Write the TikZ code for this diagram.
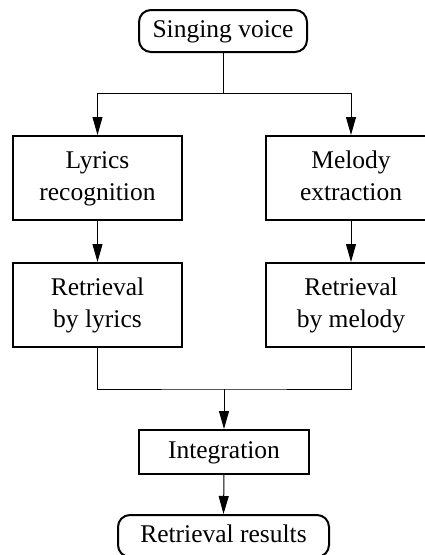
\documentclass[tikz,border=0pt]{standalone}
\usepackage{fontspec}
\setmainfont{Liberation Serif}
\usetikzlibrary{arrows.meta}
\begin{document}
\begin{tikzpicture}[x=1pt,y=-1pt,
  box/.style={draw,line width=2pt,minimum width=169pt,minimum height=84pt,align=center,inner sep=0pt,
    font=\fontsize{25.5}{32}\selectfont},
  term/.style={draw,line width=2pt,rounded corners=12pt,minimum height=42pt,inner sep=0pt,
    font=\fontsize{25.5}{32}\selectfont},
  conn/.style={line width=1pt},
  arr/.style={conn,-{Triangle[length=18pt,width=10pt]}}]
\useasboundingbox (0,0) rectangle (425,555);
\node[term,minimum width=168pt] (sing) at (223,31) {\strut Singing voice};
\node[box] (lyr) at (97.5,178) {\strut Lyrics\\\strut recognition};
\node[box,minimum width=170pt] (mel) at (351,178) {\strut Melody\\\strut extraction};
\node[box] (rl) at (97.5,305) {\strut Retrieval\\\strut by lyrics};
\node[box,minimum width=170pt] (rm) at (351,305) {\strut Retrieval\\\strut by melody};
\node[box,minimum width=170pt,minimum height=44pt] (integ) at (224,452) {\strut Integration};
\node[term,minimum width=211pt] (res) at (223.5,536) {\strut Retrieval results};
\coordinate (top) at (223,93);
\coordinate (bot) at (224,389);
\draw[conn] (sing.south) -- (top);
\draw[arr] (top) -| (lyr.north);
\draw[arr] (top) -| (mel.north);
\draw[arr] (lyr.south) -- (rl.north);
\draw[arr] (mel.south) -- (rm.north);
\draw[conn] (rl.south) |- (bot) -| (rm.south);
\draw[arr] (bot) -- (integ.north);
\draw[arr] (integ.south) -- (res.north);
\end{tikzpicture}
\end{document}
